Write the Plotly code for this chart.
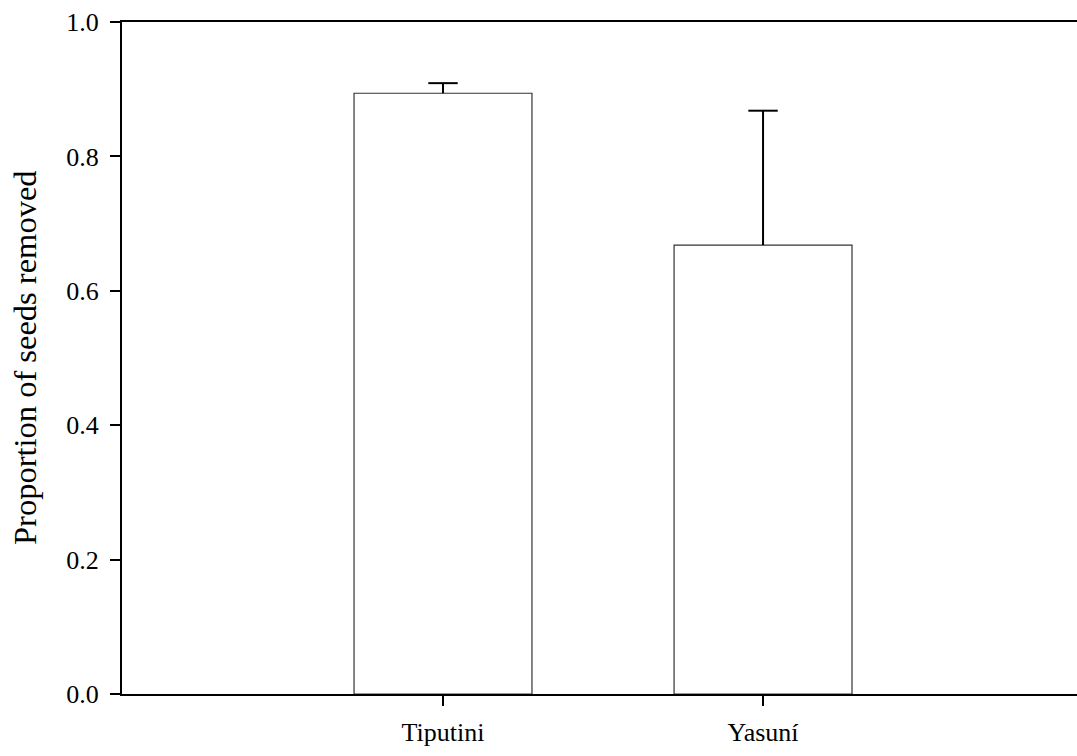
import plotly.graph_objects as go

categories = ["Tiputini", "Yasuní"]
proportion_removed = [0.894, 0.668]
error_upper = [0.015, 0.200]
y_tick_values = [0.0, 0.2, 0.4, 0.6, 0.8, 1.0]

FONT = "Liberation Serif"

x_pos = list(range(len(categories)))
cap_y = [v + e for v, e in zip(proportion_removed, error_upper)]

fig = go.Figure()
fig.add_trace(go.Bar(
    x=x_pos,
    y=proportion_removed,
    width=0.556,
    marker=dict(color="white", line=dict(color="#333333", width=1.2)),
    error_y=dict(type="data", symmetric=False, array=error_upper,
                 arrayminus=[0] * len(categories), color="black",
                 thickness=2, width=0),
    showlegend=False,
))
fig.add_trace(go.Scatter(
    x=x_pos, y=cap_y, mode="markers",
    marker=dict(symbol="line-ew", size=21, color="black",
                line=dict(color="black", width=2)),
    showlegend=False, hoverinfo="skip",
))

fig.update_layout(
    width=1077, height=756,
    margin=dict(l=122, r=0, t=22, b=62),
    paper_bgcolor="white", plot_bgcolor="white",
    font=dict(family=FONT, size=26, color="black"),
    xaxis=dict(
        range=[-1.003, 1.981],
        tickmode="array", tickvals=x_pos, ticktext=categories,
        ticks="outside", ticklen=10, tickwidth=2, tickcolor="black",
        showline=True, linecolor="black", linewidth=2, mirror=True,
        showgrid=False, zeroline=False,
        tickfont=dict(family=FONT, size=26),
        ticklabelstandoff=4,
    ),
    yaxis=dict(
        range=[0, 1.0],
        tickmode="array", tickvals=y_tick_values,
        tickformat=".1f",
        ticks="outside", ticklen=10, tickwidth=2, tickcolor="black",
        showline=True, linecolor="black", linewidth=2, mirror=False,
        showgrid=False, zeroline=False,
        tickfont=dict(family=FONT, size=26),
        ticklabelstandoff=6,
    ),
)
fig.add_annotation(
    text="Proportion of seeds removed",
    xref="paper", yref="paper", x=0, y=0.5,
    xanchor="center", yanchor="middle",
    xshift=-97, textangle=-90, showarrow=False,
    font=dict(family=FONT, size=32.5, color="black"),
)

fig.write_html("out.html")
